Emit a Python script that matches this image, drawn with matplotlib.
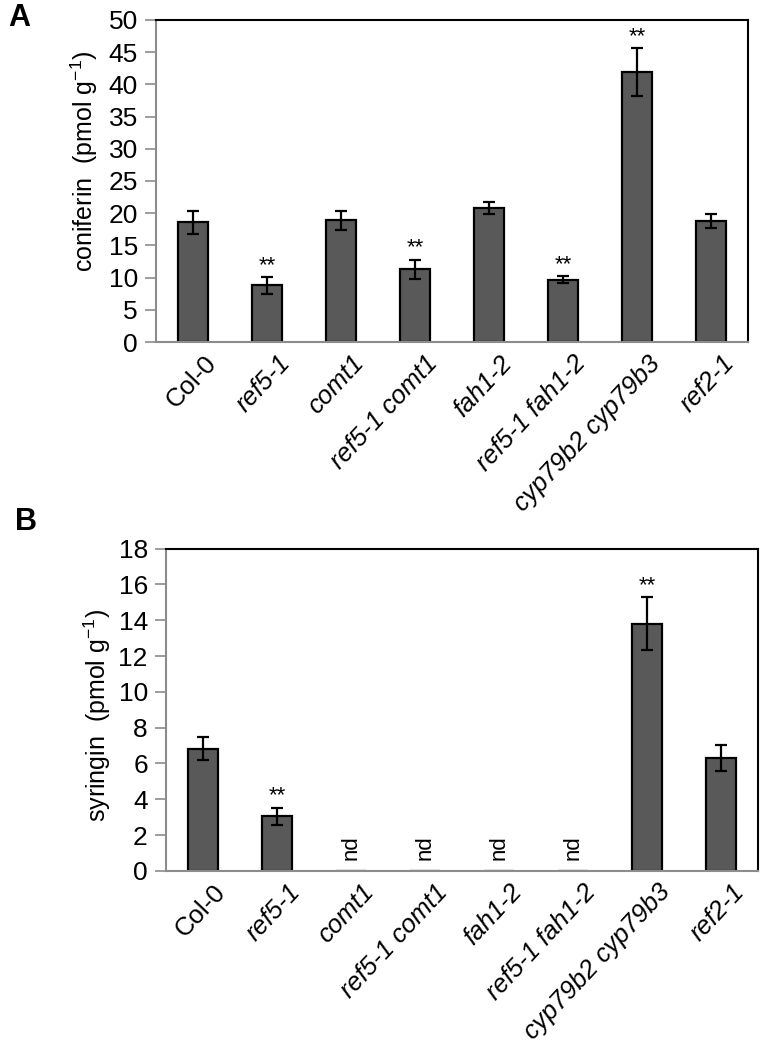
import matplotlib.pyplot as plt

plt.rcParams['font.family'] = ['Liberation Sans', 'DejaVu Sans']

# genotypes on the x axis (Col-0 upright, the rest italic)
genotypes = ['Col-0', 'ref5-1', 'comt1', 'ref5-1 comt1', 'fah1-2',
             'ref5-1 fah1-2', 'cyp79b2 cyp79b3', 'ref2-1']
italic = [False, True, True, True, True, True, True, True]

# panel A: coniferin (pmol g-1)
coniferin = [18.6, 8.8, 18.9, 11.3, 20.8, 9.7, 41.9, 18.8]
coniferin_err = [1.8, 1.3, 1.45, 1.5, 1.0, 0.55, 3.7, 1.1]
coniferin_sig = ['', '**', '', '**', '', '**', '**', '']

# panel B: syringin (pmol g-1); None = not detected
syringin = [6.83, 3.04, None, None, None, None, 13.79, 6.31]
syringin_err = [0.64, 0.5, 0, 0, 0, 0, 1.48, 0.74]
syringin_sig = ['', '**', '', '', '', '', '**', '']

bar_color = '#595959'
axis_gray = '#8c8c8c'

fig = plt.figure(figsize=(7.61, 10.43), dpi=100)
axA = fig.add_axes([0.205, 0.672, 0.778, 0.309])
axB = fig.add_axes([0.218, 0.165, 0.778, 0.309])


def draw_panel(ax, values, errs, sig, ymax, ystep):
    x = list(range(len(genotypes)))
    vals = [v if v is not None else 0 for v in values]
    ax.bar(x, vals, width=0.41, color=bar_color, edgecolor='black',
           linewidth=1.6, zorder=2)
    for i, v in enumerate(values):
        if v is None:
            ax.text(i, ymax * 0.035, 'nd', rotation=90, ha='center',
                    va='bottom', fontsize=16)
            continue
        ax.errorbar(i, v, yerr=errs[i], fmt='none', ecolor='black',
                    elinewidth=1.6, capsize=4.5, capthick=1.6, zorder=3)
        if sig[i]:
            ax.text(i, v + errs[i] + ymax * 0.003, sig[i], ha='center',
                    va='bottom', fontsize=16)
    ax.set_xlim(-0.5, len(genotypes) - 0.5)
    ax.set_ylim(0, ymax)
    ax.set_yticks(range(0, ymax + 1, ystep))
    ax.tick_params(axis='y', labelsize=19, length=8, width=1.2,
                   color=axis_gray, pad=5)
    ax.set_xticks(x)
    ax.set_xticklabels([])
    ax.tick_params(axis='x', length=0)
    for i, g in enumerate(genotypes):
        ax.text(i + 0.14, -ymax * 0.028, g, rotation=47, rotation_mode='anchor',
                ha='right', va='top', fontsize=18.5,
                style='italic' if italic[i] else 'normal')
    for side in ['left', 'bottom']:
        ax.spines[side].set_color(axis_gray)
    for side in ax.spines:
        ax.spines[side].set_linewidth(1.5)


draw_panel(axA, coniferin, coniferin_err, coniferin_sig, 50, 5)
draw_panel(axB, syringin, syringin_err, syringin_sig, 18, 2)

fig.text(0.111, 0.845, r'coniferin  (pmol g$^{\mathregular{-1}}$)',
         rotation=90, ha='center', va='center', fontsize=18)
fig.text(0.128, 0.314, r'syringin  (pmol g$^{\mathregular{-1}}$)',
         rotation=90, ha='center', va='center', fontsize=18)

fig.text(0.0105, 0.975, 'A', fontsize=22, fontweight='bold')
fig.text(0.02, 0.492, 'B', fontsize=22, fontweight='bold')

fig.savefig('out.png', dpi=100)
